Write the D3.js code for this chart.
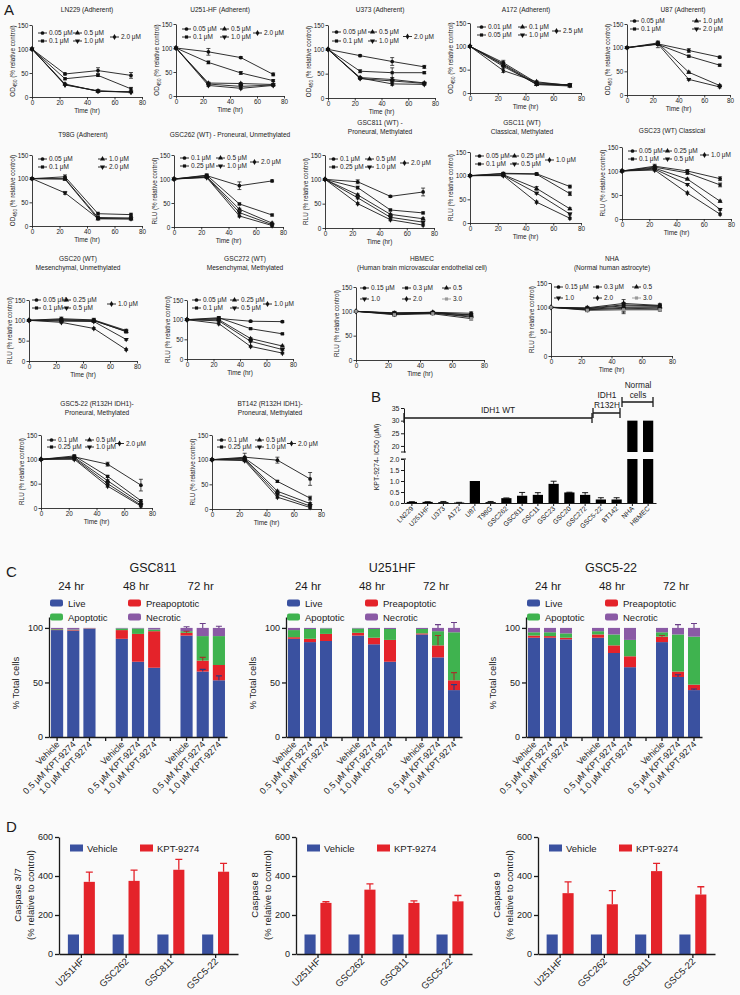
<!DOCTYPE html>
<html><head><meta charset="utf-8">
<script src="https://cdn.jsdelivr.net/npm/d3@7"></script>
<style>
body{margin:0;background:#fafafa;}
svg{display:block;}
</style></head><body>
<svg id="fig" width="740" height="995"></svg>
<script>
// ===================== DATA =====================
const timePoints = [0, 24, 48, 72];
const timeTicks = [0, 20, 40, 60, 80];
const viabilityTicks = [0, 50, 100, 150];

const ln229Title = ["LN229 (Adherent)"];
const ln229Doses = ["0.05 μM","0.1 μM","0.5 μM","1.0 μM","2.0 μM"];
const ln229Values = [[100,48,55,45],[100,38,45,17],[100,27,12,11],[100,25,13,10],[100,26,12,10]];
const ln229Errors = [[0,2,6,6],[0,2,2,3],[0,2,2,1],[0,1,1,1],[0,1,1,1]];

const u251Title = ["U251-HF (Adherent)"];
const u251Doses = ["0.05 μM","0.1 μM","0.5 μM","1.0 μM","2.0 μM"];
const u251Values = [[100,92,80,45],[100,70,48,32],[100,27,26,24],[100,25,20,23],[100,22,16,22]];
const u251Errors = [[0,7,2,3],[0,3,3,2],[0,2,2,2],[0,2,2,2],[0,2,2,2]];

const u373Title = ["U373 (Adherent)"];
const u373Doses = ["0.05 μM","0.1 μM","0.5 μM","1.0 μM","2.0 μM"];
const u373Values = [[100,87,75,64],[100,55,52,52],[100,42,38,31],[100,40,35,30],[100,41,29,28]];
const u373Errors = [[0,2,8,3],[0,3,10,2],[0,2,3,2],[0,2,2,2],[0,2,3,2]];

const a172Title = ["A172 (Adherent)"];
const a172Doses = ["0.01 μM","0.05 μM","0.1 μM","1.0 μM","2.5 μM"];
const a172Values = [[100,65,22,17],[100,62,20,16],[100,60,18,15],[100,57,19,18],[100,48,24,16]];
const a172Errors = [[0,5,2,2],[0,4,2,2],[0,3,2,2],[0,3,2,2],[0,4,2,2]];

const u87Title = ["U87 (Adherent)"];
const u87Doses = ["0.05 μM","0.1 μM","1.0 μM","2.0 μM"];
const u87Values = [[100,108,94,80],[100,107,82,63],[100,110,48,20],[100,108,33,17]];
const u87Errors = [[0,3,4,2],[0,7,2,2],[0,3,2,2],[0,3,2,2]];

const t98gTitle = ["T98G (Adherent)"];
const t98gDoses = ["0.05 μM","0.1 μM","1.0 μM","2.0 μM"];
const t98gValues = [[100,104,26,24],[100,100,18,17],[100,99,15,15],[100,70,16,15]];
const t98gErrors = [[0,4,3,3],[0,3,2,3],[0,2,2,2],[0,3,2,2]];

const gsc262Title = ["GSC262 (WT) - Proneural, Unmethylated"];
const gsc262Doses = ["0.1 μM","0.25 μM","0.5 μM","1.0 μM","2.0 μM"];
const gsc262Values = [[100,107,86,96],[100,108,48,25],[100,105,37,8],[100,104,30,5],[100,103,23,3]];
const gsc262Errors = [[0,3,8,2],[0,2,2,2],[0,2,2,2],[0,2,2,2],[0,2,2,2]];

const gsc811Title = ["GSC811 (WT) -","Proneural, Methylated"];
const gsc811Doses = ["0.1 μM","0.25 μM","0.5 μM","1.0 μM","2.0 μM"];
const gsc811Values = [[100,95,65,74],[100,83,37,31],[100,68,28,19],[100,62,22,12],[100,50,17,6]];
const gsc811Errors = [[0,4,2,8],[0,3,2,2],[0,2,2,2],[0,2,2,2],[0,2,2,2]];

const gsc11Title = ["GSC11 (WT)","Classical, Methylated"];
const gsc11Doses = ["0.05 μM","0.1 μM","0.25 μM","0.5 μM","1.0 μM"];
const gsc11Values = [[100,105,104,77],[100,104,103,62],[100,102,73,30],[100,101,63,19],[100,100,44,10]];
const gsc11Errors = [[0,2,2,3],[0,2,2,4],[0,2,4,2],[0,2,2,2],[0,2,2,2]];

const gsc23Title = ["GSC23 (WT) Classical"];
const gsc23Doses = ["0.05 μM","0.1 μM","0.25 μM","0.5 μM","1.0 μM"];
const gsc23Values = [[100,110,100,84],[100,108,96,71],[100,106,83,37],[100,104,72,20],[100,102,54,10]];
const gsc23Errors = [[0,4,3,4],[0,3,3,4],[0,3,2,2],[0,2,2,2],[0,2,2,2]];

const gsc20Title = ["GSC20 (WT)","Mesenchymal, Unmethylated"];
const gsc20Doses = ["0.05 μM","0.1 μM","0.25 μM","0.5 μM","1.0 μM"];
const gsc20Values = [[100,104,101,75],[100,102,100,72],[100,100,99,73],[100,98,97,53],[100,95,80,28]];
const gsc20Errors = [[0,4,4,3],[0,3,3,3],[0,3,3,3],[0,2,2,2],[0,2,2,2]];

const gsc272Title = ["GSC272 (WT)","Mesenchymal, Methylated"];
const gsc272Doses = ["0.05 μM","0.1 μM","0.25 μM","0.5 μM","1.0 μM"];
const gsc272Values = [[100,103,96,95],[100,105,77,64],[100,100,52,33],[100,97,45,24],[100,90,32,15]];
const gsc272Errors = [[0,3,2,2],[0,3,2,2],[0,2,2,2],[0,2,2,2],[0,3,2,2]];

const hbmecTitle = ["HBMEC","(Human brain microvascular endothelial cell)"];
const hbmecDoses = ["0.15 μM","0.3 μM","0.5","1.0","2.0","3.0"];
const hbmecValues = [[100,97,98,96],[100,96,97,93],[100,95,96,90],[100,94,97,88],[100,96,98,92],[100,93,95,85]];
const hbmecErrors = [[0,3,2,3],[0,3,2,3],[0,3,2,3],[0,3,2,3],[0,3,2,3],[0,3,2,3]];

const nhaTitle = ["NHA","(Normal human astrocyte)"];
const nhaDoses = ["0.15 μM","0.3 μM","0.5","1.0","2.0","3.0"];
const nhaValues = [[100,98,105,103],[100,97,103,102],[100,96,100,100],[100,95,98,97],[100,99,108,104],[100,94,95,95]];
const nhaErrors = [[0,3,5,3],[0,3,6,3],[0,3,8,3],[0,3,8,3],[0,3,8,4],[0,3,8,3]];

const gsc522Title = ["GSC5-22 (R132H IDH1)-","Proneural, Methylated"];
const gsc522Doses = ["0.1 μM","0.25 μM","0.5 μM","1.0 μM","2.0 μM"];
const gsc522Values = [[100,105,90,47],[100,107,65,15],[100,104,56,10],[100,102,50,6],[100,100,45,4]];
const gsc522Errors = [[0,3,4,12],[0,2,2,2],[0,2,2,2],[0,2,2,2],[0,2,2,2]];

const bt142Title = ["BT142 (R132H IDH1)-","Proneural, Methylated"];
const bt142Doses = ["0.1 μM","0.25 μM","0.5 μM","1.0 μM","2.0 μM"];
const bt142Values = [[100,105,99,61],[100,103,56,22],[100,102,36,11],[100,100,30,6],[100,98,24,3]];
const bt142Errors = [[0,8,6,13],[0,2,2,4],[0,2,2,2],[0,2,2,2],[0,2,2,2]];

// Panel B
const ic50Cells = ["LN229","U251HF","U373","A172","U87","T98G","GSC262","GSC811","GSC11","GSC23","GSC20","GSC272","GSC5-22","BT142","NHA","HBMEC"];
const ic50Values = [0.05,0.05,0.04,0.02,1.0,0.04,0.22,0.33,0.37,0.87,0.48,0.37,0.16,0.16,30,30];
const ic50Errors = [0.01,0.01,0.03,0.01,0,0.03,0.01,0.15,0.1,0.12,0.01,0.1,0.08,0.08,0,0];
const ic50LowTicks = [0,0.5,1.0,1.5,2.0];
const ic50HighTicks = [20,25,30,35];
const ic50Groups = ["IDH1 WT","IDH1 R132H","Normal cells"];

// Panel C
const cConditions = ["Vehicle","0.5 μM KPT-9274","1.0 μM KPT-9274"];
const cTimes = ["24 hr","48 hr","72 hr"];
const cStates = ["Live","Preapoptotic","Apoptotic","Necrotic"];
const cTicks = [0,50,100];

const gsc811Live = [98,97.5,99,90,69,63.5,93,60,52];
const gsc811Pre  = [0.5,0.5,0.3,8,25.5,33.5,2.5,10,14];
const gsc811Apo  = [0.5,0.5,0.2,1.5,5,1.5,1.5,22.5,26.5];
const gsc811Nec  = [1,1.5,0.5,0.5,0.5,1.5,3,7.5,7.5];
const gsc811LiveErr = [0,0,0,0,0,0,0,2,4];
const gsc811PreErr  = [0,0,0,0,0,0,1.5,3,0];
const gsc811NecErr  = [0,0,0,0,0,0,1,4,1.5];

const u251Live = [90,87,88,93,85,69,94,73,43];
const u251Pre  = [1.5,3,6.5,2.5,6,20,1,11,9];
const u251Apo  = [6.5,9,5,4,8,10,4,13,44];
const u251Nec  = [2,1,0.5,0.5,1,1,1,3,4];
const u251LiveErr = [0,0,0,0,0,0,0,0,5];
const u251PreErr  = [0,0,0,0,0,0,0,9,7];
const u251NecErr  = [0,0,0,0,0,0,0,3,5];

const gsc522Live = [91,91,89.5,91,77,64,87,55,43];
const gsc522Pre  = [2,1.5,1.5,3,7,10,5,5,5];
const gsc522Apo  = [3,3.5,4,3,10,15,4,34,44];
const gsc522Nec  = [4,4,5,3,6,11,4,6,8];
const gsc522LiveErr = [0,0,0,0,0,0,0,2,1];
const gsc522PreErr  = [0,0,0,0,0,0,1,0,0];
const gsc522NecErr  = [0,0,0,0,0,0,0,3,4];

// Panel D
const caspaseCells = ["U251HF","GSC262","GSC811","GSC5-22"];
const caspaseSeries = ["Vehicle","KPT-9274"];
const caspaseTicks = [0,200,400,600];
const vehicleLevel = [100,100,100,100];
const casp37KPT = [370,375,432,422];
const casp37Err = [50,55,53,43];
const casp8KPT  = [262,330,262,270];
const casp8Err  = [6,30,10,30];
const casp9KPT  = [312,255,425,305];
const casp9Err  = [58,70,40,40];

// ===================== STYLE / LAYOUT =====================
const FONT = "'Liberation Sans', Arial, Helvetica, sans-serif";
const INK = "#1a1a1a";
const BLUE = "#3a51a0", RED = "#e4232a", GREEN = "#3fb34f", PURPLE = "#8a5aa5";
const stateColors = [BLUE, RED, GREEN, PURPLE];
const stateErrColors = ["#2a3a80", "#a1362a", "#2a8a3a", "#6b3f88"];

const svg = d3.select("#fig").attr("font-family", FONT);
svg.append("rect").attr("width",740).attr("height",995).attr("fill","#fafafa");

function styleAxis(a, fs, sw) {
  a.attr("font-family", FONT).attr("font-size", fs);
  a.selectAll("path.domain").attr("stroke", INK).attr("stroke-width", sw);
  a.selectAll(".tick line").attr("stroke", INK).attr("stroke-width", sw);
  a.selectAll(".tick text").attr("fill", INK);
}

function markerPath(i) {
  const types = [d3.symbolCircle, d3.symbolSquare, d3.symbolTriangle, d3.symbolTriangle, d3.symbolDiamond, d3.symbolSquare];
  const sizes = [11, 10, 11, 11, 11, 10];
  return d3.symbol(types[i], sizes[i])();
}

// ---------- Panel A line charts ----------
const lineLayout = {
  ln229: {x0:32,x1:142,yT:25,yB:97,tx:87,ty:[12],leg:[6,41,78],legY:[8,16],ylab:"OD"},
  u251:  {x0:176,x1:284,yT:24,yB:96,tx:220,ty:[12],leg:[6,44,77],legY:[5,13],ylab:"OD"},
  u373:  {x0:328,x1:435,yT:25,yB:98,tx:380,ty:[12],leg:[4,40,75],legY:[7,16],ylab:"OD"},
  a172:  {x0:470,x1:581,yT:23,yB:93,tx:526,ty:[12],leg:[7,48,82],legY:[4,12],ylab:"OD"},
  u87:   {x0:627,x1:730,yT:24,yB:95,tx:683,ty:[12],leg:[3,65],legY:[-3,5],ylab:"OD"},
  t98g:  {x0:32,x1:142,yT:155,yB:226,tx:83,ty:[137],leg:[6,66],legY:[4,12],ylab:"OD"},
  gsc262:{x0:174,x1:283,yT:155,yB:227,tx:230,ty:[137],leg:[6,42,76],legY:[3,11],ylab:"RLU"},
  gsc811:{x0:325,x1:434,yT:155,yB:228,tx:380,ty:[125,134],leg:[4,40,75],legY:[4,12],ylab:"RLU"},
  gsc11: {x0:470,x1:581,yT:152,yB:223,tx:522,ty:[125,134],leg:[5,40,75],legY:[4,12],ylab:"RLU"},
  gsc23: {x0:622,x1:731,yT:147,yB:219,tx:672,ty:[133],leg:[6,41,78],legY:[4,12],ylab:"RLU"},
  gsc20: {x0:29,x1:137,yT:300,yB:361,tx:78,ty:[261,270],leg:[3,33,78],legY:[0,8],ylab:"RLU"},
  gsc272:{x0:187,x1:293,yT:300,yB:359,tx:245,ty:[261,270],leg:[5,43,76],legY:[0,8],ylab:"RLU"},
  hbmec: {x0:356,x1:484,yT:287,yB:360,tx:422,ty:[261,270],leg:[4,46,86],legY:[1,12],ylab:"RLU"},
  nha:   {x0:551,x1:672,yT:283,yB:356,tx:612,ty:[261,270],leg:[3,42,81],legY:[4,15],ylab:"RLU"},
  gsc522:{x0:41,x1:152,yT:435,yB:508,tx:97,ty:[406,415],leg:[6,44,74],legY:[5,12],ylab:"RLU"},
  bt142: {x0:212,x1:321,yT:435,yB:509,tx:270,ty:[406,415],leg:[5,43,75],legY:[5,12],ylab:"RLU"}
};

function drawLineChart(L, titleLines, doses, values, errors) {
  const g = svg.append("g");
  const x = d3.scaleLinear().domain([0,80]).range([L.x0, L.x1]);
  const y = d3.scaleLinear().domain([0,150]).range([L.yB, L.yT]);
  const fs = 6.4;
  const ax = g.append("g").attr("transform", `translate(0,${L.yB})`)
    .call(d3.axisBottom(x).tickValues(timeTicks).tickSize(2.5).tickPadding(1.2).tickSizeOuter(0));
  const ay = g.append("g").attr("transform", `translate(${L.x0},0)`)
    .call(d3.axisLeft(y).tickValues(viabilityTicks).tickSize(2.5).tickPadding(1.2).tickSizeOuter(0));
  styleAxis(ax, fs, 0.85); styleAxis(ay, fs, 0.85);
  g.append("text").attr("x", (L.x0+L.x1)/2).attr("y", L.yB+16).attr("text-anchor","middle")
    .attr("font-size", fs).attr("fill", INK).text("Time (hr)");
  const yl = g.append("text").attr("transform", `translate(${L.x0-17},${(L.yT+L.yB)/2}) rotate(-90)`)
    .attr("text-anchor","middle").attr("font-size", 6.3).attr("fill", INK);
  if (L.ylab === "OD") {
    yl.append("tspan").text("OD");
    yl.append("tspan").attr("font-size",4.6).attr("dy",1.5).text("450");
    yl.append("tspan").attr("dy",-1.5).text(" (% relative control)");
  } else {
    yl.text("RLU (% relative control)");
  }
  titleLines.forEach((t,i) => g.append("text").attr("x", L.tx).attr("y", L.ty[i])
    .attr("text-anchor","middle").attr("font-size", 6.6).attr("fill", INK).text(t));

  const line = d3.line().x((d,j) => x(timePoints[j])).y(d => y(d));
  values.forEach(s => g.append("path").attr("d", line(s)).attr("fill","none")
    .attr("stroke", INK).attr("stroke-width", 0.9));
  values.forEach((s,i) => {
    s.forEach((v,j) => {
      const e = errors[i][j];
      if (e >= 2) {
        const cx = x(timePoints[j]);
        g.append("path").attr("d", `M${cx},${y(v-e)}V${y(v+e)}M${cx-2},${y(v-e)}H${cx+2}M${cx-2},${y(v+e)}H${cx+2}`)
          .attr("stroke", INK).attr("stroke-width", 0.75).attr("fill","none");
      }
    });
    g.selectAll(null).data(s).join("path")
      .attr("transform", (d,j) => `translate(${x(timePoints[j])},${y(d)})${i===3?" rotate(180)":""}`)
      .attr("d", markerPath(i)).attr("fill", i===5 ? "#999" : "#111");
  });
  const n = doses.length;
  doses.forEach((d,i) => {
    let col, row;
    if (n === 4) { col = Math.floor(i/2); row = i%2; }
    else if (n === 6) { col = i%3; row = Math.floor(i/3); }
    else if (i < 4) { col = Math.floor(i/2); row = i%2; }
    else { col = 2; row = 0.5; }
    const lx = L.x0 + L.leg[col];
    const ly = L.yT + L.legY[0] + row*(L.legY[1]-L.legY[0]);
    g.append("line").attr("x1", lx).attr("x2", lx+9).attr("y1", ly).attr("y2", ly)
      .attr("stroke", i===5 ? "#999" : INK).attr("stroke-width", 0.9);
    g.append("path").attr("transform", `translate(${lx+4.5},${ly})${i===3?" rotate(180)":""}`)
      .attr("d", markerPath(i)).attr("fill", i===5 ? "#999" : "#111");
    g.append("text").attr("x", lx+11).attr("y", ly+2.3).attr("font-size", 6.5).attr("fill", INK).text(d);
  });
}

drawLineChart(lineLayout.ln229, ln229Title, ln229Doses, ln229Values, ln229Errors);
drawLineChart(lineLayout.u251, u251Title, u251Doses, u251Values, u251Errors);
drawLineChart(lineLayout.u373, u373Title, u373Doses, u373Values, u373Errors);
drawLineChart(lineLayout.a172, a172Title, a172Doses, a172Values, a172Errors);
drawLineChart(lineLayout.u87, u87Title, u87Doses, u87Values, u87Errors);
drawLineChart(lineLayout.t98g, t98gTitle, t98gDoses, t98gValues, t98gErrors);
drawLineChart(lineLayout.gsc262, gsc262Title, gsc262Doses, gsc262Values, gsc262Errors);
drawLineChart(lineLayout.gsc811, gsc811Title, gsc811Doses, gsc811Values, gsc811Errors);
drawLineChart(lineLayout.gsc11, gsc11Title, gsc11Doses, gsc11Values, gsc11Errors);
drawLineChart(lineLayout.gsc23, gsc23Title, gsc23Doses, gsc23Values, gsc23Errors);
drawLineChart(lineLayout.gsc20, gsc20Title, gsc20Doses, gsc20Values, gsc20Errors);
drawLineChart(lineLayout.gsc272, gsc272Title, gsc272Doses, gsc272Values, gsc272Errors);
drawLineChart(lineLayout.hbmec, hbmecTitle, hbmecDoses, hbmecValues, hbmecErrors);
drawLineChart(lineLayout.nha, nhaTitle, nhaDoses, nhaValues, nhaErrors);
drawLineChart(lineLayout.gsc522, gsc522Title, gsc522Doses, gsc522Values, gsc522Errors);
drawLineChart(lineLayout.bt142, bt142Title, bt142Doses, bt142Values, bt142Errors);

// ---------- Panel letters ----------
[["A",4,15],["B",371,402],["C",6,577],["D",6,832]].forEach(([t,x,y]) =>
  svg.append("text").attr("x",x).attr("y",y).attr("font-size",15).attr("fill",INK).text(t));

// ---------- Panel B ----------
(function drawIC50() {
  const g = svg.append("g");
  const x = d3.scaleBand().domain(ic50Cells).range([404,656]).paddingInner(0.35).paddingOuter(0.175);
  const yLow = d3.scaleLinear().domain([0,2]).range([503,459]);
  const yUp = d3.scaleLinear().domain([17.6,35]).range([452,408]);
  const fs = 7;
  const ayl = g.append("g").attr("transform","translate(404,0)")
    .call(d3.axisLeft(yLow).tickValues(ic50LowTicks).tickFormat(d3.format(".1f")).tickSize(3).tickPadding(1.5).tickSizeOuter(0));
  const ayu = g.append("g").attr("transform","translate(404,0)")
    .call(d3.axisLeft(yUp).tickValues(ic50HighTicks).tickSize(3).tickPadding(1.5).tickSizeOuter(0));
  const axb = g.append("g").attr("transform","translate(0,503)")
    .call(d3.axisBottom(x).tickSize(3).tickSizeOuter(0));
  [ayl, ayu, axb].forEach(a => styleAxis(a, fs, 1));
  axb.selectAll(".tick text").attr("x",0).attr("y",0).attr("dy",0)
    .attr("transform","translate(2,6) rotate(-45)").attr("text-anchor","end").attr("font-size",6.8);
  g.append("path").attr("d","M401,452H406M401,459H406").attr("stroke",INK).attr("stroke-width",1);
  ic50Cells.forEach((c,i) => {
    const v = ic50Values[i], bx = x(c), bw = x.bandwidth();
    if (v <= 2) {
      g.append("rect").attr("x",bx).attr("y",yLow(v)).attr("width",bw).attr("height",503-yLow(v)).attr("fill","#000");
      if (ic50Errors[i] > 0) {
        const cx = bx + bw/2, ye = yLow(v + ic50Errors[i]);
        g.append("path").attr("d",`M${cx},${yLow(v)}V${ye}M${cx-3},${ye}H${cx+3}`).attr("stroke","#000").attr("stroke-width",0.9);
      }
    } else {
      g.append("rect").attr("x",bx).attr("y",yLow(2)).attr("width",bw).attr("height",503-yLow(2)).attr("fill","#000");
      g.append("rect").attr("x",bx).attr("y",yUp(v)).attr("width",bw).attr("height",452-yUp(v)).attr("fill","#000");
    }
  });
  g.append("text").attr("transform","translate(379,457) rotate(-90)").attr("text-anchor","middle")
    .attr("font-size",7).attr("fill",INK).text("KPT-9274- IC50 (μM)");
  const br = [
    {x1: 404, x2: 592, y: 418},
    {x1: 593, x2: 620, y: 413},
    {x1: 622, x2: 653, y: 402}
  ];
  br.forEach(b => g.append("path").attr("d",`M${b.x1},${b.y-5}V${b.y+5}M${b.x1},${b.y}H${b.x2}M${b.x2},${b.y-5}V${b.y+5}`)
    .attr("stroke",INK).attr("stroke-width",1.3).attr("fill","none"));
  const bt = [
    {x: 498, lines: [ic50Groups[0]], y: 413},
    {x: 607, lines: ic50Groups[1].split(" "), y: 398},
    {x: 638, lines: ic50Groups[2].split(" "), y: 388}
  ];
  bt.forEach(b => b.lines.forEach((t,i) => g.append("text").attr("x",b.x).attr("y",b.y+i*9.5)
    .attr("text-anchor","middle").attr("font-size",8.3).attr("fill",INK).text(t)));
})();

// ---------- Panel C ----------
function drawStacked(P, title, live, pre, apo, nec, liveErr, preErr, necErr) {
  const g = svg.append("g");
  const slots = [];
  cTimes.forEach((t,ti) => {
    cConditions.forEach((c,ci) => slots.push(ti+"-"+ci));
    if (ti < cTimes.length-1) slots.push("gap"+ti);
  });
  const x = d3.scaleBand().domain(slots).range([P.x0, P.x1]).paddingInner(0.25).paddingOuter(0.125);
  const y = d3.scaleLinear().domain([0,110]).range([737,617]);
  const rows = live.map((v,i) => ({key: Math.floor(i/3)+"-"+(i%3), Live: v, Preapoptotic: pre[i], Apoptotic: apo[i], Necrotic: nec[i]}));
  const stack = d3.stack().keys(cStates)(rows);
  stack.forEach((layer, li) => {
    g.selectAll(null).data(layer).join("rect")
      .attr("x", d => x(d.data.key)).attr("width", x.bandwidth())
      .attr("y", d => y(d[1])).attr("height", d => y(d[0]) - y(d[1]))
      .attr("fill", stateColors[li]);
  });
  const errSets = [[0, liveErr], [1, preErr], [3, necErr]];
  errSets.forEach(([li, errs]) => {
    stack[li].forEach((d, i) => {
      const e = errs[i];
      if (e > 0) {
        const cx = x(d.data.key) + x.bandwidth()/2, y1 = y(d[1]), y2 = y(d[1]+e);
        g.append("path").attr("d", `M${cx},${y1}V${y2}M${cx-3},${y2}H${cx+3}`)
          .attr("stroke", stateErrColors[li]).attr("stroke-width", 1.1).attr("fill","none");
      }
    });
  });
  const ay = g.append("g").attr("transform", `translate(${P.x0},0)`)
    .call(d3.axisLeft(y).tickValues(cTicks).tickSize(4).tickPadding(2).tickSizeOuter(0));
  const ax = g.append("g").attr("transform", "translate(0,737)")
    .call(d3.axisBottom(x).tickSize(4).tickSizeOuter(0)
      .tickFormat(s => s.startsWith("gap") ? "" : cConditions[+s.split("-")[1]]));
  styleAxis(ay, 9, 1.3); styleAxis(ax, 9, 1.3);
  ax.selectAll(".tick text").attr("x",0).attr("y",0).attr("dy",0)
    .attr("transform","translate(3,8) rotate(-45)").attr("text-anchor","end").attr("font-size",9);
  g.append("text").attr("transform", `translate(${P.x0-30},683) rotate(-90)`).attr("text-anchor","middle")
    .attr("font-size",9.5).attr("fill",INK).text("% Total cells");
  g.append("text").attr("x", P.tx).attr("y", 572).attr("text-anchor","middle").attr("font-size",12.5).attr("fill",INK).text(title);
  cTimes.forEach((t,ti) => g.append("text").attr("x", x(ti+"-1") + x.bandwidth()/2 - 2).attr("y", 590)
    .attr("text-anchor","middle").attr("font-size",11.5).attr("fill",INK).text(t));
  // legend: Live (r1c1), Preapoptotic (r1c2), Apoptotic (r2c1), Necrotic (r2c2)
  cStates.forEach((s,i) => {
    const yy = i < 2 ? 603 : 617;
    const xx = P.x0 + 1 + (i % 2 ? 78 : 0);
    g.append("rect").attr("x", xx).attr("y", yy-3.5).attr("width",13).attr("height",7).attr("rx",2)
      .attr("fill", stateColors[i]);
    g.append("text").attr("x", xx+18).attr("y", yy+3.5).attr("font-size",9.5).attr("fill",INK).text(s);
  });
}
drawStacked({x0:49, x1:227, tx:153}, "GSC811", gsc811Live, gsc811Pre, gsc811Apo, gsc811Nec, gsc811LiveErr, gsc811PreErr, gsc811NecErr);
drawStacked({x0:286, x1:462, tx:392}, "U251HF", u251Live, u251Pre, u251Apo, u251Nec, u251LiveErr, u251PreErr, u251NecErr);
drawStacked({x0:526, x1:702, tx:611}, "GSC5-22", gsc522Live, gsc522Pre, gsc522Apo, gsc522Nec, gsc522LiveErr, gsc522PreErr, gsc522NecErr);

// ---------- Panel D ----------
function drawCaspase(P, labelTop, vehicle, kpt, err) {
  const g = svg.append("g");
  const x = d3.scaleBand().domain(caspaseCells).range([P.x0, P.x1]);
  const inner = d3.scaleBand().domain(caspaseSeries).range([-13.5, 13.5]).paddingInner(0.3);
  const y = d3.scaleLinear().domain([0,600]).range([954,837]);
  const colors = [BLUE, RED];
  caspaseCells.forEach((c,i) => {
    const gc = x(c) + x.bandwidth()/2;
    [vehicle[i], kpt[i]].forEach((v,k) => {
      g.append("rect").attr("x", gc + inner(caspaseSeries[k])).attr("width", inner.bandwidth())
        .attr("y", y(v)).attr("height", 954 - y(v)).attr("fill", colors[k]);
    });
    const cx = gc + inner(caspaseSeries[1]) + inner.bandwidth()/2, ye = y(kpt[i] + err[i]);
    g.append("path").attr("d", `M${cx},${y(kpt[i])}V${ye}M${cx-3.5},${ye}H${cx+3.5}`)
      .attr("stroke", RED).attr("stroke-width", 1.3).attr("fill","none");
  });
  const ay = g.append("g").attr("transform", `translate(${P.x0},0)`)
    .call(d3.axisLeft(y).tickValues(caspaseTicks).tickSize(4).tickPadding(2).tickSizeOuter(0));
  const ax = g.append("g").attr("transform", "translate(0,954)")
    .call(d3.axisBottom(x).tickSize(4).tickSizeOuter(0));
  styleAxis(ay, 9, 1.3); styleAxis(ax, 9.5, 1.3);
  ax.selectAll(".tick text").attr("x",0).attr("y",0).attr("dy",0)
    .attr("transform","translate(3,8) rotate(-45)").attr("text-anchor","end");
  [labelTop, "(% relative to control)"].forEach((t,i) =>
    g.append("text").attr("transform", `translate(${P.x0-38+i*13},895) rotate(-90)`).attr("text-anchor","middle")
      .attr("font-size",9.5).attr("fill",INK).text(t));
  caspaseSeries.forEach((s,k) => {
    const xx = P.x0 + 11 + k*70;
    g.append("rect").attr("x", xx).attr("y", 844.5).attr("width",13).attr("height",7).attr("fill", colors[k]);
    g.append("text").attr("x", xx+17).attr("y", 851.5).attr("font-size",9.5).attr("fill",INK).text(s);
  });
}
drawCaspase({x0:59, x1:238}, "Caspase 3/7", vehicleLevel, casp37KPT, casp37Err);
drawCaspase({x0:296, x1:472}, "Caspase 8", vehicleLevel, casp8KPT, casp8Err);
drawCaspase({x0:538, x1:715}, "Caspase 9", vehicleLevel, casp9KPT, casp9Err);
</script></body></html>
